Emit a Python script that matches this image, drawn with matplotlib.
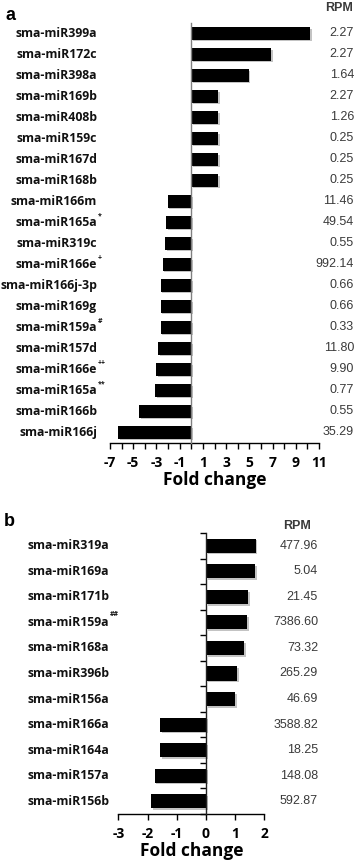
import matplotlib
matplotlib.use("Agg")
import matplotlib.pyplot as plt
import matplotlib.patheffects as pe
import matplotlib.transforms as mtransforms
import numpy as np

# ---- Data: panel a ----
a_names = ["sma-miR399a", "sma-miR172c", "sma-miR398a", "sma-miR169b", "sma-miR408b",
           "sma-miR159c", "sma-miR167d", "sma-miR168b", "sma-miR166m", "sma-miR165a",
           "sma-miR319c", "sma-miR166e", "sma-miR166j-3p", "sma-miR169g", "sma-miR159a",
           "sma-miR157d", "sma-miR166e", "sma-miR165a", "sma-miR166b", "sma-miR166j"]
a_marks = ["", "", "", "", "", "", "", "", "", "*", "", "+", "", "", "#", "", "++", "**", "", ""]
a_fold = [10.26, 6.87, 4.94, 2.3, 2.3, 2.3, 2.3, 2.3, -2.04, -2.16,
          -2.24, -2.47, -2.64, -2.64, -2.64, -2.87, -3.04, -3.10, -4.46, -6.27]
a_rpm = ["2.27", "2.27", "1.64", "2.27", "1.26", "0.25", "0.25", "0.25", "11.46", "49.54",
         "0.55", "992.14", "0.66", "0.66", "0.33", "11.80", "9.90", "0.77", "0.55", "35.29"]
a_ticks = list(range(-7, 12))
a_ticklabels = [str(t) if t % 2 != 0 else "" for t in a_ticks]

# ---- Data: panel b ----
b_names = ["sma-miR319a", "sma-miR169a", "sma-miR171b", "sma-miR159a", "sma-miR168a",
           "sma-miR396b", "sma-miR156a", "sma-miR166a", "sma-miR164a", "sma-miR157a",
           "sma-miR156b"]
b_marks = ["", "", "", "##", "", "", "", "", "", "", ""]
b_fold = [1.70, 1.69, 1.44, 1.42, 1.31, 1.06, 1.01, -1.56, -1.56, -1.76, -1.87]
b_rpm = ["477.96", "5.04", "21.45", "7386.60", "73.32", "265.29", "46.69", "3588.82",
         "18.25", "148.08", "592.87"]
b_ticks = list(range(-3, 3))

W, H = 358, 863
fig = plt.figure(figsize=(W / 100, H / 100), dpi=100)
fig.patch.set_facecolor("white")

LABEL_FONT = "Open Sans"
NUM_FONT = "Liberation Sans"


def box(x0, y0, x1, y1):
    return [x0 / W, 1 - y1 / H, (x1 - x0) / W, (y1 - y0) / H]


def fx(x):
    return x / W


def fy(y):
    return 1 - y / H


shadow = [pe.SimplePatchShadow(offset=(1.2, -1.2), shadow_rgbFace="#888888", alpha=0.5), pe.Normal()]


def panel(rect, names, marks, fold, rpm, ticks, ticklabels, xlim, label_x, rpm_x,
          bar_h, left_spine_color, boundary_ticks):
    ax = fig.add_axes(rect)
    n = len(names)
    y = np.arange(n)
    bars = ax.barh(y, fold, height=bar_h, color="black", zorder=3)
    for b in bars:
        b.set_path_effects(shadow)
    ax.set_xlim(*xlim)
    ax.set_ylim(n - 0.5, -0.5)
    for s in ["top", "right"]:
        ax.spines[s].set_visible(False)
    ax.spines["left"].set_position(("data", 0))
    ax.spines["left"].set_color(left_spine_color)
    ax.spines["left"].set_linewidth(1.0)
    ax.spines["left"].set_zorder(4)
    ax.spines["bottom"].set_linewidth(1.0)
    ax.set_xticks(ticks)
    ax.set_xticklabels(ticklabels, fontfamily=LABEL_FONT, fontweight="bold", fontsize=10)
    ax.tick_params(axis="x", direction="out", length=4, width=1.0, pad=5)
    ax.set_yticks([])
    if boundary_ticks:
        ax.set_yticks(np.arange(n + 1) - 0.5, minor=True)
        ax.tick_params(axis="y", which="minor", direction="out", length=4, width=1.0)
    ax.set_xlabel("Fold change", fontfamily=LABEL_FONT, fontweight="bold", fontsize=12.5, labelpad=1)
    tr = mtransforms.blended_transform_factory(fig.transFigure, ax.transData)
    for i in range(n):
        ax.text(label_x, i, names[i], transform=tr, ha="right", va="center",
                fontfamily=LABEL_FONT, fontweight="bold", fontsize=8.8, color="#111111")
        if marks[i]:
            ax.text(label_x + 0.002, i - 0.3, marks[i], transform=tr, ha="left", va="center",
                    fontfamily=LABEL_FONT, fontweight="bold", fontsize=5, color="#111111")
        ax.text(rpm_x, i, rpm[i], transform=tr, ha="right", va="center",
                fontfamily=NUM_FONT, fontsize=9, color="#3a3a3a")
    return ax


ax_a = panel(box(110, 23, 319, 443), a_names, a_marks, a_fold, a_rpm, a_ticks, a_ticklabels,
             (-7, 11), fx(97), fx(354), 0.6, "#808080", False)
ax_b = panel(box(118.3, 533, 264.3, 814), b_names, b_marks, b_fold, b_rpm, b_ticks,
             [str(t) for t in b_ticks], (-3, 2), fx(109), fx(318), 0.55, "#222222", True)

fig.text(fx(339), fy(8), "RPM", ha="center", va="center", fontfamily=NUM_FONT, fontweight="bold",
         fontsize=9, color="#3a3a3a")
fig.text(fx(297), fy(526), "RPM", ha="center", va="center", fontfamily=NUM_FONT, fontweight="bold",
         fontsize=9, color="#3a3a3a")
fig.text(fx(5), fy(15), "a", ha="left", va="center", fontfamily="Liberation Sans", fontweight="bold",
         fontsize=13)
fig.text(fx(4), fy(521), "b", ha="left", va="center", fontfamily="Liberation Sans", fontweight="bold",
         fontsize=13)

fig.savefig("out.png", dpi=100, facecolor="white")
